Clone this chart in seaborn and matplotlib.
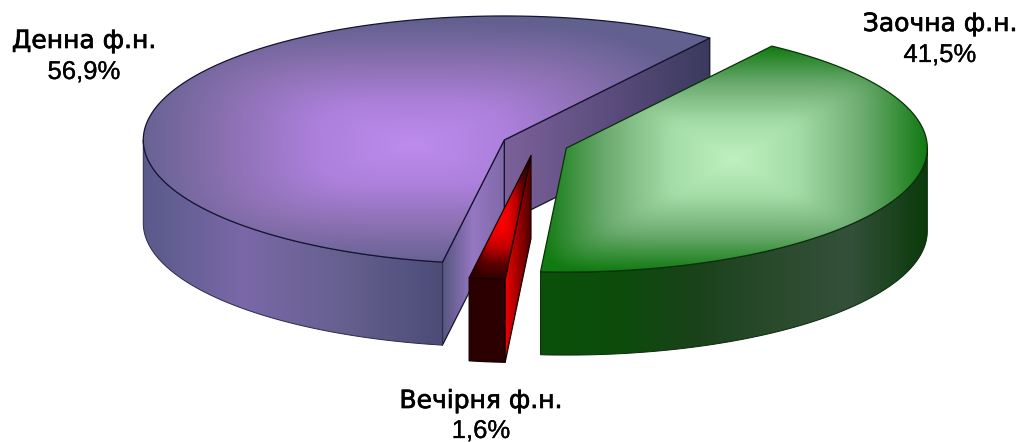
import numpy as np
import matplotlib
matplotlib.use("Agg")
import matplotlib.pyplot as plt
from matplotlib.patches import Polygon
import matplotlib.patheffects as pe
import seaborn as sns

labels = ["Денна ф.н.", "Вечірня ф.н.", "Заочна ф.н."]
values = [56.9, 1.6, 41.5]
value_text = ["56,9%", "1,6%", "41,5%"]

START = 55.3
EXPLODE = 0.092
DEPTH = 83 / 124
W, H = 1021, 442
CX, CY, RX, RY = 535.0, 144.3, 361.0, 124.0

sns.set_theme(style="white")
plt.rcParams["font.family"] = ["Liberation Sans", "DejaVu Sans"]

fig = plt.figure(figsize=(W / 100, H / 100), dpi=100, facecolor="white")
ax = fig.add_axes([0, 0, 1, 1])
ax.set_axis_off()
XLIM = (-CX / RX, (W - CX) / RX)
YLIM = (-(H - CY) / RY, CY / RY)
layer = [1]


def arc(a0, a1, ox, oy, n=160):
    t = np.radians(np.linspace(a0, a1, n))
    return np.column_stack([ox + np.cos(t), oy + np.sin(t)])


def fill(poly, kind, ramp, p=8, edge="#141430", lw=0.9, shift=(0.0, 0.0)):
    """Paint a polygon with a gradient clipped to it."""
    poly = np.asarray(poly)
    x0, y0 = poly.min(0)
    x1, y1 = poly.max(0)
    u = np.linspace(-1, 1, 500) - shift[0]
    v = np.linspace(-1, 1, 300) - shift[1]
    uu, vv = np.meshgrid(u, v)
    if kind == "rect":
        t = np.clip((np.abs(uu) ** p + np.abs(vv) ** p) ** (1 / p), 0, 1)
    else:
        t = np.clip((uu + 1) / 2, 0, 1)
    cmap = sns.blend_palette(ramp, n_colors=256, as_cmap=True)
    im = ax.imshow(cmap(t), extent=(x0, x1, y0, y1), origin="lower",
                   aspect="auto", interpolation="bilinear", zorder=layer[0])
    patch = Polygon(poly, closed=True, facecolor="none", edgecolor=edge,
                    linewidth=lw, zorder=layer[0] + 0.1, joinstyle="round")
    ax.add_patch(patch)
    im.set_clip_path(patch)
    layer[0] += 1


def extrude(path):
    return np.vstack([path, (path - [0, DEPTH])[::-1]])


angles = [START]
for v in values:
    angles.append(angles[-1] + v * 3.6)

geo = []
for i in range(len(values)):
    a0, a1 = angles[i], angles[i + 1]
    mid = np.radians((a0 + a1) / 2)
    geo.append((a0, a1, EXPLODE * np.cos(mid), EXPLODE * np.sin(mid)))

# slice 1: purple
a0, a1, ox, oy = geo[0]
apex = np.array([[ox, oy]])
p0 = arc(a0, a0, ox, oy, 1)
p1 = arc(a1, a1, ox, oy, 1)
fill(extrude(np.vstack([apex, p0])), "h", ["#7c6199", "#5c4d7e", "#3b3a5e"])
fill(extrude(np.vstack([p1, apex])), "h", ["#55557f", "#9678c2", "#7f69a8"])
fill(extrude(arc(180, a1, ox, oy)), "h",
     ["#595a8a", "#7a68a8", "#66608f", "#4c4c77"], edge="#2a2a4a", lw=0.7)
fill(np.vstack([apex, arc(a0, a1, ox, oy)]), "rect",
     ["#bd8cee", "#ad80dc", "#8a70b0", "#62608f"], p=3.5, shift=(-0.05, -0.05))

# slice 2: red
a0, a1, ox, oy = geo[1]
apex = np.array([[ox, oy]])
p1 = arc(a1, a1, ox, oy, 1)
fill(extrude(arc(a0, a1, ox, oy, 8)), "h", ["#2c0000", "#2c0000"], edge="#100000")
fill(extrude(np.vstack([p1, apex])), "h", ["#f00000", "#a00000", "#500000"], edge="#180000")
fill(np.vstack([apex, arc(a0, a1, ox, oy, 8)]), "rect",
     ["#ff0000", "#f00000", "#c00000", "#600000", "#300000"], p=4, edge="#180000")

# slice 3: green
a0, a1, ox, oy = geo[2]
apex = np.array([[ox, oy]])
fill(extrude(arc(a0, 360, ox, oy)), "h",
     ["#0a500a", "#0c4c0c", "#1a421a", "#2a4a2c", "#34503a", "#0a3a0a"], edge="#0a2a0a", lw=0.7)
fill(np.vstack([apex, arc(a0, a1, ox, oy)]), "rect",
     ["#bff0c0", "#a4dca6", "#6cab70", "#117a11"], p=10, edge="#0a300a")

ax.set_xlim(XLIM)
ax.set_ylim(YLIM)

label_px = [(84, 41, 72), (481, 401, 431), (940, 24, 55)]
name_stroke = [pe.withStroke(linewidth=0.5, foreground="black")]
value_stroke = [pe.withStroke(linewidth=0.2, foreground="black")]
for name, txt, (x, y1, y2) in zip(labels, value_text, label_px):
    ax.text(x / W, 1 - y1 / H, name, transform=fig.transFigure, ha="center",
            va="center", fontsize=18, family="DejaVu Sans", color="black",
            path_effects=name_stroke, zorder=50)
    ax.text(x / W, 1 - y2 / H, txt, transform=fig.transFigure, ha="center",
            va="center", fontsize=18.5, family="Liberation Sans", color="black",
            path_effects=value_stroke, zorder=50)

fig.savefig("out.png", dpi=100, facecolor="white")
